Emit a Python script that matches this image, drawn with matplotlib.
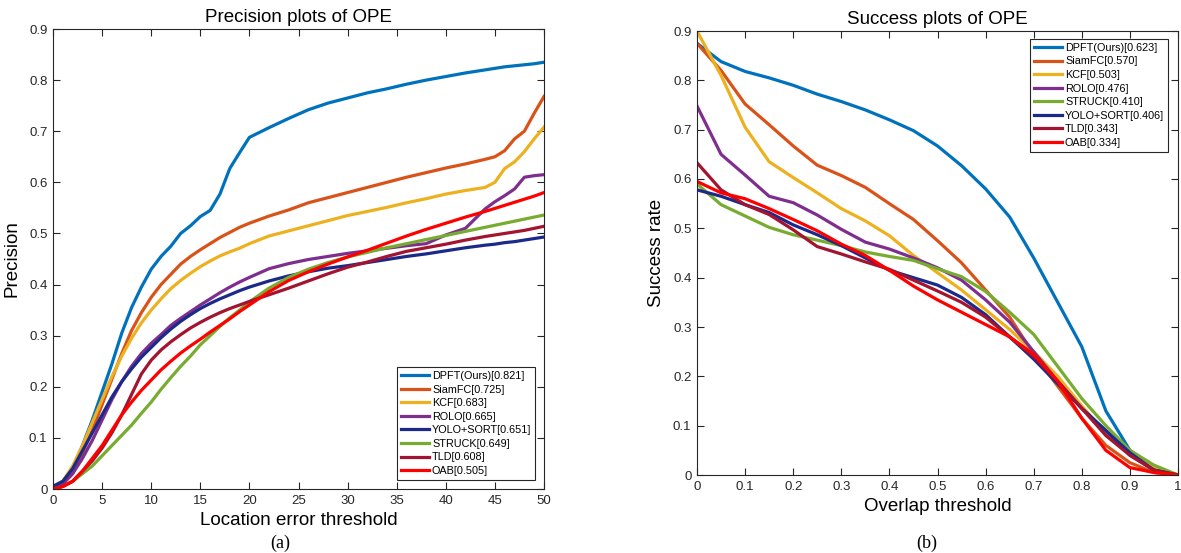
import numpy as np
import matplotlib
matplotlib.use("Agg")
import matplotlib.pyplot as plt

plt.rcParams['font.family'] = ['Liberation Sans', 'DejaVu Sans']

# ---- precision plot data (location error threshold) ----
prec_x = [0, 1, 2, 3, 4, 5, 6, 7, 8, 9, 10, 11, 12, 13, 14, 15, 16, 17, 18, 19, 20,
          22, 24, 26, 28, 30, 32, 34, 36, 38, 40, 42, 44, 45, 46, 47, 48, 49, 50]

prec_dpft = [0.005, 0.015, 0.04, 0.085, 0.135, 0.19, 0.245, 0.305, 0.355, 0.395, 0.43,
             0.455, 0.475, 0.5, 0.515, 0.533, 0.545, 0.577, 0.627, 0.658, 0.688,
             0.707, 0.725, 0.742, 0.755, 0.765, 0.775, 0.783, 0.792, 0.8, 0.807, 0.814,
             0.82, 0.823, 0.826, 0.828, 0.83, 0.832, 0.835]
prec_siamfc = [0.005, 0.01, 0.03, 0.07, 0.115, 0.165, 0.215, 0.265, 0.31, 0.345, 0.375,
               0.4, 0.42, 0.44, 0.455, 0.468, 0.48, 0.492, 0.502, 0.512, 0.52,
               0.534, 0.546, 0.56, 0.57, 0.58, 0.59, 0.6, 0.61, 0.619, 0.628, 0.636,
               0.645, 0.65, 0.662, 0.685, 0.7, 0.735, 0.768]
prec_kcf = [0.005, 0.015, 0.045, 0.085, 0.13, 0.175, 0.22, 0.26, 0.295, 0.325, 0.35,
            0.372, 0.392, 0.408, 0.422, 0.435, 0.446, 0.456, 0.464, 0.471, 0.48,
            0.495, 0.505, 0.515, 0.525, 0.535, 0.543, 0.551, 0.56, 0.568, 0.577, 0.584,
            0.59, 0.6, 0.627, 0.64, 0.66, 0.685, 0.708]
prec_rolo = [0.005, 0.01, 0.03, 0.06, 0.095, 0.135, 0.175, 0.21, 0.24, 0.265, 0.285,
             0.302, 0.32, 0.334, 0.347, 0.36, 0.372, 0.384, 0.395, 0.405, 0.414,
             0.431, 0.441, 0.449, 0.455, 0.461, 0.466, 0.471, 0.476, 0.48, 0.497, 0.51,
             0.548, 0.562, 0.574, 0.587, 0.61, 0.613, 0.615]
prec_yolo = [0.005, 0.015, 0.04, 0.075, 0.11, 0.145, 0.18, 0.21, 0.235, 0.258, 0.277,
             0.296, 0.313, 0.328, 0.341, 0.353, 0.363, 0.372, 0.38, 0.388, 0.395,
             0.407, 0.417, 0.425, 0.432, 0.437, 0.443, 0.449, 0.455, 0.46, 0.466, 0.472,
             0.477, 0.479, 0.482, 0.484, 0.487, 0.49, 0.493]
prec_struck = [0.0, 0.005, 0.015, 0.03, 0.045, 0.065, 0.085, 0.105, 0.125, 0.148, 0.17,
               0.195, 0.218, 0.24, 0.26, 0.282, 0.3, 0.318, 0.335, 0.35, 0.366,
               0.393, 0.414, 0.43, 0.443, 0.454, 0.463, 0.472, 0.48, 0.488, 0.496, 0.504,
               0.512, 0.516, 0.52, 0.524, 0.528, 0.532, 0.536]
prec_tld = [0.0, 0.005, 0.015, 0.035, 0.055, 0.08, 0.11, 0.145, 0.185, 0.225, 0.252,
            0.272, 0.288, 0.302, 0.315, 0.326, 0.336, 0.345, 0.353, 0.36, 0.367,
            0.38, 0.393, 0.407, 0.421, 0.434, 0.444, 0.455, 0.465, 0.472, 0.479, 0.487,
            0.494, 0.497, 0.5, 0.503, 0.506, 0.51, 0.514]
prec_oab = [0.0, 0.005, 0.015, 0.035, 0.06, 0.085, 0.115, 0.145, 0.17, 0.193, 0.213,
            0.233, 0.25, 0.266, 0.28, 0.293, 0.307, 0.32, 0.333, 0.347, 0.36,
            0.386, 0.408, 0.425, 0.44, 0.454, 0.467, 0.481, 0.495, 0.508, 0.52, 0.532,
            0.543, 0.549, 0.555, 0.561, 0.567, 0.573, 0.58]

# ---- success plot data (overlap threshold) ----
succ_x = [0, 0.05, 0.1, 0.15, 0.2, 0.25, 0.3, 0.35, 0.4, 0.45, 0.5,
          0.55, 0.6, 0.65, 0.7, 0.75, 0.8, 0.85, 0.9, 0.95, 1.0]

succ_dpft = [0.875, 0.838, 0.818, 0.805, 0.79, 0.772, 0.757, 0.74, 0.72, 0.698, 0.667,
             0.627, 0.58, 0.523, 0.44, 0.35, 0.26, 0.13, 0.05, 0.015, 0.0]
succ_siamfc = [0.875, 0.82, 0.752, 0.71, 0.667, 0.628, 0.607, 0.583, 0.55, 0.518, 0.475,
               0.43, 0.375, 0.32, 0.245, 0.18, 0.115, 0.06, 0.025, 0.005, 0.0]
succ_kcf = [0.9, 0.81, 0.705, 0.635, 0.603, 0.572, 0.54, 0.515, 0.485, 0.445, 0.41,
            0.375, 0.335, 0.295, 0.25, 0.2, 0.14, 0.085, 0.045, 0.015, 0.0]
succ_rolo = [0.748, 0.65, 0.608, 0.565, 0.552, 0.527, 0.498, 0.472, 0.458, 0.44, 0.42,
             0.395, 0.355, 0.31, 0.25, 0.19, 0.135, 0.09, 0.04, 0.01, 0.0]
succ_struck = [0.59, 0.548, 0.525, 0.502, 0.487, 0.476, 0.465, 0.452, 0.443, 0.435, 0.418,
               0.402, 0.372, 0.33, 0.285, 0.22, 0.155, 0.1, 0.05, 0.02, 0.0]
succ_yolo = [0.578, 0.565, 0.548, 0.532, 0.507, 0.487, 0.465, 0.44, 0.415, 0.4, 0.385,
             0.36, 0.325, 0.28, 0.235, 0.185, 0.135, 0.09, 0.045, 0.01, 0.0]
succ_tld = [0.633, 0.578, 0.548, 0.528, 0.497, 0.463, 0.448, 0.432, 0.417, 0.395, 0.373,
            0.35, 0.32, 0.28, 0.24, 0.19, 0.135, 0.08, 0.04, 0.01, 0.0]
succ_oab = [0.595, 0.572, 0.56, 0.54, 0.518, 0.495, 0.468, 0.445, 0.415, 0.383, 0.355,
            0.33, 0.305, 0.28, 0.245, 0.19, 0.115, 0.05, 0.015, 0.005, 0.0]

# MATLAB-ish colours
c_dpft = '#0072BD'
c_siam = '#D95319'
c_kcf = '#EDB120'
c_rolo = '#7E2F8E'
c_yolo = '#1B2A8A'
c_struck = '#77AC30'
c_tld = '#A2142F'
c_oab = '#FF0000'

prec_series = [
    ('DPFT(Ours)[0.821]', prec_dpft, c_dpft),
    ('SiamFC[0.725]', prec_siamfc, c_siam),
    ('KCF[0.683]', prec_kcf, c_kcf),
    ('ROLO[0.665]', prec_rolo, c_rolo),
    ('YOLO+SORT[0.651]', prec_yolo, c_yolo),
    ('STRUCK[0.649]', prec_struck, c_struck),
    ('TLD[0.608]', prec_tld, c_tld),
    ('OAB[0.505]', prec_oab, c_oab),
]
succ_series = [
    ('DPFT(Ours)[0.623]', succ_dpft, c_dpft),
    ('SiamFC[0.570]', succ_siamfc, c_siam),
    ('KCF[0.503]', succ_kcf, c_kcf),
    ('ROLO[0.476]', succ_rolo, c_rolo),
    ('STRUCK[0.410]', succ_struck, c_struck),
    ('YOLO+SORT[0.406]', succ_yolo, c_yolo),
    ('TLD[0.343]', succ_tld, c_tld),
    ('OAB[0.334]', succ_oab, c_oab),
]

fig = plt.figure(figsize=(11.81, 5.53), dpi=100)
ax1 = fig.add_axes([53 / 1181, 64 / 553, 491 / 1181, 460 / 553])
ax2 = fig.add_axes([697 / 1181, 78 / 553, 481 / 1181, 444 / 553])

frame_col = '#262626'


def style_axes(ax):
    for sp in ax.spines.values():
        sp.set_color(frame_col)
        sp.set_linewidth(0.8)
    ax.tick_params(direction='in', top=True, right=True, length=5, width=0.8,
                   colors=frame_col, labelsize=9.5, pad=4)


def add_legend(ax, loc, anchor):
    leg = ax.legend(loc=loc, bbox_to_anchor=anchor, borderaxespad=0,
                    fontsize=7.8, handlelength=2.6, handletextpad=0.3, labelspacing=0.33,
                    borderpad=0.35, fancybox=False, framealpha=1)
    leg.get_frame().set_edgecolor(frame_col)
    leg.get_frame().set_linewidth(0.8)
    return leg


# precision plot
for name, vals, col in prec_series:
    ax1.plot(prec_x, vals, color=col, lw=2.3, label=name)
ax1.set_xlim(0, 50)
ax1.set_ylim(0, 0.9)
ax1.set_xticks(np.arange(0, 51, 5))
ax1.set_yticks(np.arange(0, 0.91, 0.1))
ax1.set_yticklabels(['0'] + ['%.1f' % v for v in np.arange(0.1, 0.91, 0.1)])
style_axes(ax1)
ax1.set_title('Precision plots of OPE', fontsize=13.5, pad=5)
ax1.set_xlabel('Location error threshold', fontsize=13.5, labelpad=4)
ax1.set_ylabel('Precision', fontsize=13.5, labelpad=6)
add_legend(ax1, 'lower right', (0.982, 0.02))

# success plot
for name, vals, col in succ_series:
    ax2.plot(succ_x, vals, color=col, lw=2.3, label=name)
ax2.set_xlim(0, 1)
ax2.set_ylim(0, 0.9)
ax2.set_xticks(np.arange(0, 1.01, 0.1))
ax2.set_xticklabels(['0'] + ['%.1f' % v for v in np.arange(0.1, 0.95, 0.1)] + ['1'])
ax2.set_yticks(np.arange(0, 0.91, 0.1))
ax2.set_yticklabels(['0'] + ['%.1f' % v for v in np.arange(0.1, 0.91, 0.1)])
style_axes(ax2)
ax2.set_title('Success plots of OPE', fontsize=13.5, pad=5)
ax2.set_xlabel('Overlap threshold', fontsize=13.5, labelpad=4)
ax2.set_ylabel('Success rate', fontsize=13.5, labelpad=6)
add_legend(ax2, 'upper right', (0.979, 0.982))

# captions
fig.text(280 / 1181, 1 - 543 / 553, '(a)', ha='center', va='center', fontsize=13,
         family=['Liberation Serif', 'DejaVu Serif'])
fig.text(927 / 1181, 1 - 543 / 553, '(b)', ha='center', va='center', fontsize=13,
         family=['Liberation Serif', 'DejaVu Serif'])

fig.savefig('out.png', dpi=100)
